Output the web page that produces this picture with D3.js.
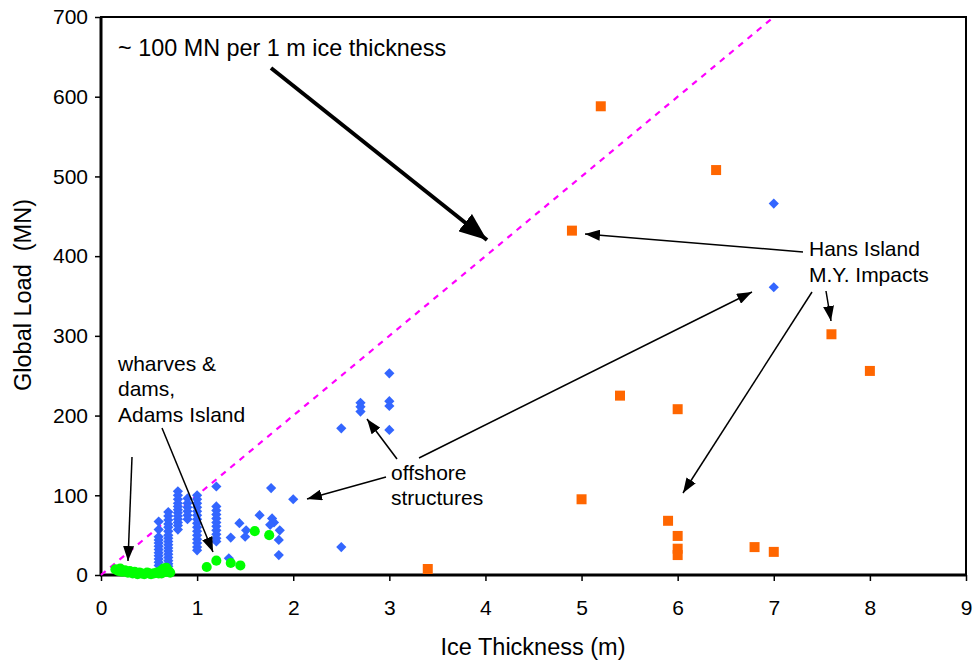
<!DOCTYPE html>
<html><head><meta charset="utf-8">
<script src="https://cdn.jsdelivr.net/npm/d3@7"></script>
<style>
html,body{margin:0;padding:0;background:#fff;}
text{font-family:"Liberation Sans",Arial,sans-serif;fill:#000;}
</style></head>
<body>
<svg id="chart" width="974" height="663"></svg>
<script>
// ---- data ----
const xTicks = [0,1,2,3,4,5,6,7,8,9];
const yTicks = [0,100,200,300,400,500,600,700];

// offshore structures (blue diamonds)
const offshoreX = [
 0.6,0.6,0.6,0.6,0.6,0.6,0.6,0.6,0.6,0.6,0.6,0.6,
 0.7,0.7,0.7,0.7,0.7,0.7,0.7,0.7,0.7,0.7,0.7,0.7,0.7,0.7,0.7,0.7,0.7,
 0.8,0.8,0.8,0.8,0.8,0.8,0.8,0.8,0.8,0.8,0.8,0.8,
 0.9,0.9,0.9,0.9,0.9,0.9,
 1.0,1.0,1.0,1.0,1.0,1.0,1.0,1.0,1.0,1.0,1.0,1.0,1.0,1.0,1.0,
 1.2,1.2,1.2,1.2,1.2,1.2,1.2,1.2,1.2,1.2,1.2,
 1.35,1.33,1.44,1.51,1.5,1.65,1.77,1.78,1.8,1.76,1.86,1.85,1.85,2.0,
 2.5,2.5,2.7,2.7,2.7,3.0,3.0,3.0,3.0,7.0,7.0];
const offshoreY = [
 67,57,48,44,40,36,32,28,24,20,16,12,
 79,74,69,64,60,55,50,46,42,38,34,30,26,22,18,14,11,
 105,100,95,90,86,82,78,74,70,66,62,57,
 96,90,85,80,75,70,
 100,95,90,85,80,75,70,65,60,55,50,45,40,35,31,
 111,86,81,76,71,66,61,56,51,46,42,
 47,21,65,56,48,75,109,71,66,63,56,44,25,95,
 35,184,216,211,205,253,218,212,182,466,361];

// Hans Island M.Y. impacts (orange squares)
const hansX = [3.4,4.9,5.0,5.2,5.4,5.9,6.0,6.0,6.0,6.0,6.4,6.8,7.0,7.6,8.0];
const hansY = [7.5,432,95,588,225,68,208,49,33,25,508,35,29,302,256];

// wharves & dams, Adams Island (green circles)
const wharfX = [0.15,0.18,0.2,0.22,0.25,0.28,0.3,0.33,0.35,0.38,0.4,0.42,0.45,0.48,0.5,0.52,0.55,0.58,0.6,0.62,0.63,0.65,0.67,0.68,0.7,0.72,
 1.1,1.2,1.35,1.45,1.6,1.75];
const wharfY = [7,5,8,4,6,3,5,2,4,1,3,2,1,3,2,1,2,3,2,5,2,8,4,9,6,3,
 10,18,15,12,55,50];

// trend line ~100 MN per m
const trendX = [0,7];
const trendY = [0,700];

// ---- layout ----
const svg = d3.select("#chart");
const L = 101, R = 966, T = 17, B = 575;
const x = d3.scaleLinear().domain([0,9]).range([L,R]);
const y = d3.scaleLinear().domain([0,700]).range([B,T]);

// defs: arrowheads
const defs = svg.append("defs");
function head(id, len, wid){
  defs.append("marker").attr("id",id).attr("markerUnits","userSpaceOnUse")
    .attr("viewBox",`0 0 ${len} ${wid}`).attr("refX",len).attr("refY",wid/2)
    .attr("markerWidth",len).attr("markerHeight",wid).attr("orient","auto")
    .append("path").attr("d",`M0,0L${len},${wid/2}L0,${wid}Z`).attr("fill","#000");
}
head("thin",15,11);
head("thick",28,22);

// axes
const yAxis = d3.axisLeft(y).tickValues(yTicks).tickSize(6).tickPadding(7);
const xAxis = d3.axisBottom(x).tickValues(xTicks).tickSize(6).tickPadding(19);
const gy = svg.append("g").attr("transform",`translate(${L},0)`).call(yAxis);
const gx = svg.append("g").attr("transform",`translate(0,${B})`).call(xAxis);
[gx,gy].forEach(g=>{
  g.selectAll("text").style("font-size","21px").style("font-family",'"Liberation Sans",Arial,sans-serif').attr("fill","#000");
  g.selectAll("line").attr("stroke","#000").attr("stroke-width",1.5);
  g.select(".domain").remove();
});

// frame
svg.append("rect").attr("x",L).attr("y",T).attr("width",R-L).attr("height",B-T)
  .attr("fill","none").attr("stroke","#000").attr("stroke-width",2);
svg.append("line").attr("x1",L).attr("x2",L).attr("y1",T).attr("y2",B+1).attr("stroke","#000").attr("stroke-width",3);
svg.append("line").attr("x1",L-1).attr("x2",R).attr("y1",B).attr("y2",B).attr("stroke","#000").attr("stroke-width",3);

// trend line
svg.append("line")
  .attr("x1",x(trendX[0])).attr("y1",y(trendY[0]))
  .attr("x2",x(trendX[1])).attr("y2",y(trendY[1]))
  .attr("stroke","#FF00FF").attr("stroke-width",2.2).attr("stroke-dasharray","6,6");

// points
const diamond = d3.symbol().type(d3.symbolSquare).size(52)();
svg.append("g").selectAll("path").data(d3.range(offshoreX.length)).join("path")
  .attr("d",diamond).attr("fill","#3366FF")
  .attr("transform",i=>`translate(${x(offshoreX[i])},${y(offshoreY[i])}) rotate(45)`);
const square = d3.symbol().type(d3.symbolSquare).size(100)();
svg.append("g").selectAll("path").data(d3.range(hansX.length)).join("path")
  .attr("d",square).attr("fill","#FF6600")
  .attr("transform",i=>`translate(${x(hansX[i])},${y(hansY[i])})`);
const circ = d3.symbol().type(d3.symbolCircle).size(80)();
svg.append("g").selectAll("path").data(d3.range(wharfX.length)).join("path")
  .attr("d",circ).attr("fill","#00FF00")
  .attr("transform",i=>`translate(${x(wharfX[i])},${y(wharfY[i])})`);

// axis titles
svg.append("text").attr("x",533).attr("y",655).attr("text-anchor","middle")
  .style("font-size","23.5px").text("Ice Thickness (m)");
svg.append("text").attr("transform","translate(31,295) rotate(-90)").attr("text-anchor","middle")
  .style("font-size","23.5px").style("white-space","pre").text("Global Load  (MN)");

// annotations
function txt(x0,y0,s,fs){ svg.append("text").attr("x",x0).attr("y",y0).style("font-size",(fs||21)+"px").text(s); }
txt(118,56,"~ 100 MN per 1 m ice thickness",23.4);
txt(118,371,"wharves &");
txt(118,396,"dams,");
txt(118,422,"Adams Island");
txt(391,480,"offshore");
txt(391,505,"structures");
txt(809,256,"Hans Island");
txt(809,282,"M.Y. Impacts");

function arrow(x1,y1,x2,y2,w,m){
  svg.append("line").attr("x1",x1).attr("y1",y1).attr("x2",x2).attr("y2",y2)
    .attr("stroke","#000").attr("stroke-width",w).attr("marker-end",`url(#${m})`);
}
arrow(271,68,487,240,4,"thick");
arrow(132,457,128,561,1.5,"thin");
arrow(162,428,213,552,1.5,"thin");
arrow(397,459,367,419,1.5,"thin");
arrow(386,477,307,499,1.5,"thin");
arrow(419,458,752,292,1.5,"thin");
arrow(803,252,585,234,1.5,"thin");
arrow(826,291,831,321,1.5,"thin");
arrow(812,292,683,493,1.5,"thin");
</script>
</body></html>
